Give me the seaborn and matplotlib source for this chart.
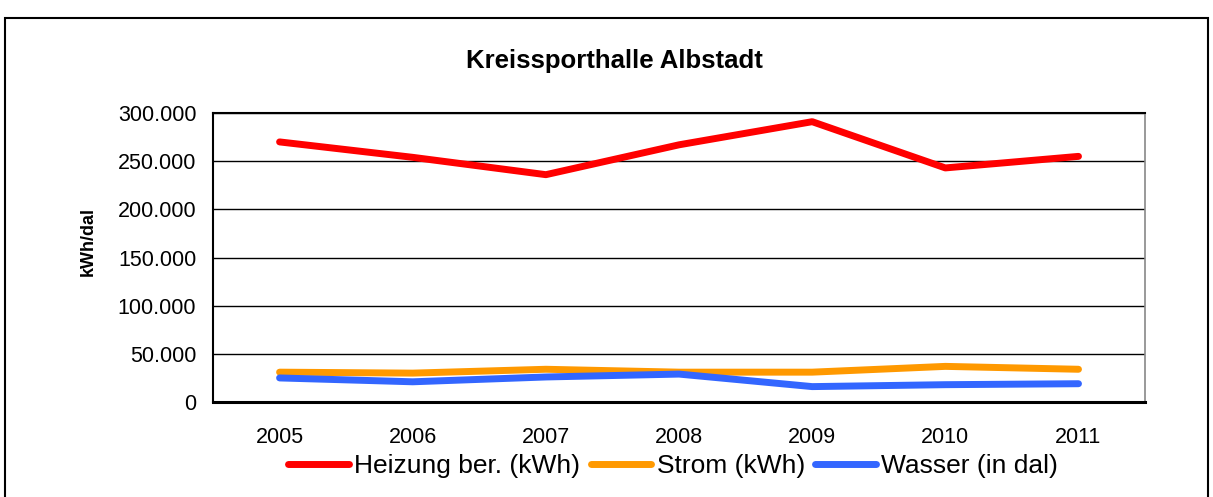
import matplotlib
matplotlib.use('Agg')
import matplotlib.pyplot as plt
import matplotlib.ticker as mticker
from matplotlib.patches import Rectangle
import seaborn as sns
import pandas as pd

years = ['2005', '2006', '2007', '2008', '2009', '2010', '2011']
heizung = [270000, 254000, 236000, 267000, 291000, 243000, 255000]
strom = [31000, 30000, 34000, 31000, 31000, 37000, 34000]
wasser = [25000, 21000, 26000, 29000, 16000, 18000, 19000]
series_names = ['Heizung ber. (kWh)', 'Strom (kWh)', 'Wasser (in dal)']
colors = ['#ff0000', '#ff9900', '#3366ff']

sns.set_style('white')
plt.rcParams['font.family'] = ['Liberation Sans', 'DejaVu Sans']
for key in ['text.color', 'axes.labelcolor', 'xtick.color', 'ytick.color']:
    plt.rcParams[key] = 'black'

rows = []
for name, vals in zip(series_names, [heizung, strom, wasser]):
    for i, v in enumerate(vals):
        rows.append({'pos': i, 'value': v, 'serie': name})
df = pd.DataFrame(rows)

fig = plt.figure(figsize=(12.13, 4.97), dpi=100)
ax = fig.add_axes([0.1756, 0.1911, 0.944 - 0.1756, 0.7726 - 0.1911])

sns.lineplot(data=df, x='pos', y='value', hue='serie', palette=colors,
             linewidth=5, ax=ax, legend=False, sort=False)

ax.set_xlim(-0.5, len(years) - 0.5)
ax.set_ylim(0, 300000)
ax.set_yticks(range(0, 300001, 50000))
ax.yaxis.set_major_formatter(mticker.FuncFormatter(
    lambda v, p: f'{int(v):,}'.replace(',', '.')))
ax.set_xticks(range(len(years)))
ax.set_xticklabels(years)
ax.set_xticks([i - 0.5 for i in range(len(years) + 1)], minor=True)
ax.tick_params(axis='x', which='major', length=0, pad=18, labelsize=15.5)
ax.tick_params(axis='x', which='minor', length=6, width=1.2, color='black')
ax.tick_params(axis='y', length=5, width=1.2, color='black', labelsize=15.5, pad=7)
ax.set_xlabel('')
ax.set_ylabel('kWh/dal', fontsize=13, fontweight='bold')
ax.yaxis.set_label_coords(-0.125, 0.557)
ax.grid(axis='y', color='black', linewidth=1)
ax.set_axisbelow(True)

for side in ['left', 'top']:
    ax.spines[side].set_color('black')
    ax.spines[side].set_linewidth(1.5)
ax.spines['bottom'].set_color('black')
ax.spines['bottom'].set_linewidth(2.2)
ax.spines['right'].set_color('#888888')
ax.spines['right'].set_linewidth(1.2)

fig.text(614 / 1213, 0.877, 'Kreissporthalle Albstadt', ha='center', va='center',
         fontsize=18.5, fontweight='bold')

handles = [plt.Line2D([], [], color=c, linewidth=5) for c in colors]
fig.legend(handles, series_names, loc='center', bbox_to_anchor=(0.555, 0.062),
           ncol=3, frameon=False, fontsize=19, handlelength=2.3,
           handletextpad=0.2, columnspacing=0.4)

fig.patches.append(Rectangle((5 / 1213, -0.1), 1203 / 1213, 1.08 - 8 / 497,
                             transform=fig.transFigure, fill=False,
                             edgecolor='black', linewidth=1.5))

fig.savefig('out.png', dpi=100)
